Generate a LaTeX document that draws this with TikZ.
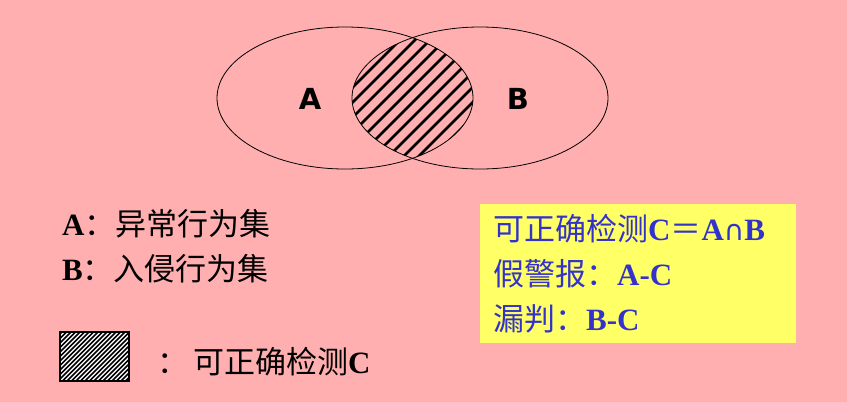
\documentclass[tikz,border=0pt]{standalone}
\usepackage{fontspec}
\setmainfont{Liberation Serif}
\newfontfamily\cjk{Noto Sans CJK SC}
\newfontfamily\setfont{DejaVu Sans}
\usetikzlibrary{positioning}
\definecolor{bgpink}{RGB}{255,175,175}
\definecolor{panelyellow}{RGB}{255,255,102}
\definecolor{textblue}{RGB}{51,51,204}
\newcommand\zh[1]{{\cjk\mdseries #1}}

\tikzset{
  txt/.style={inner sep=0pt, anchor=base west, font=\fontsize{31}{36}\selectfont\bfseries},
  setlabel/.style={inner sep=0pt, font=\setfont\fontsize{29}{34}\selectfont\bfseries},
  hatch/.style={line width=2.8pt},
  keyhatch/.style={line width=1.6pt}
}

\begin{document}
\begin{tikzpicture}[x=1pt,y=-1pt]
\fill[bgpink] (0,0) rectangle (847,402);

\begin{scope}
\clip (345,98) ellipse (128 and 71);
\clip (480,98) ellipse (128 and 71);
\foreach \c in {365,380,...,620}
  \draw[hatch] ({\c-180},180) -- ({\c-10},10);
\end{scope}
\draw[line width=0.8pt] (345,98) ellipse (128 and 71);
\draw[line width=0.8pt] (480,98) ellipse (128 and 71);
\node[setlabel] (labA) at (310,99) {A};
\node[setlabel] (labB) at (518,99) {B};

\node[txt] (lineA) at (62,235) {A\zh{：异常行为集}};
\node[txt] (lineB) at (62,280) {B\zh{：入侵行为集}};

\node[draw, line width=1.5pt, fill=white, minimum width=69, minimum height=49, anchor=north west,
  path picture={\foreach \i in {-60,-55.5,...,80}
    \draw[keyhatch] ([xshift=\i pt]path picture bounding box.south west) -- ++(60,-60);}]
  (key) at (59,331) {};
\node[txt] (keytext) at (157,373) {\zh{：}\hspace{5pt}\zh{可正确检测}C};

\node[fill=panelyellow, minimum width=316, minimum height=139, anchor=north west] (panel) at (480,204) {};
\node[txt, text=textblue] (ruleC) at (493,240) {\zh{可正确检测}C\zh{＝}A{\setfont\mdseries\fontsize{28}{34}\selectfont ∩}B};
\node[txt, text=textblue] (ruleFA) at (493,285) {\zh{假警报：}A-C};
\node[txt, text=textblue] (ruleMiss) at (493,330) {\zh{漏判：}B-C};
\end{tikzpicture}
\end{document}
